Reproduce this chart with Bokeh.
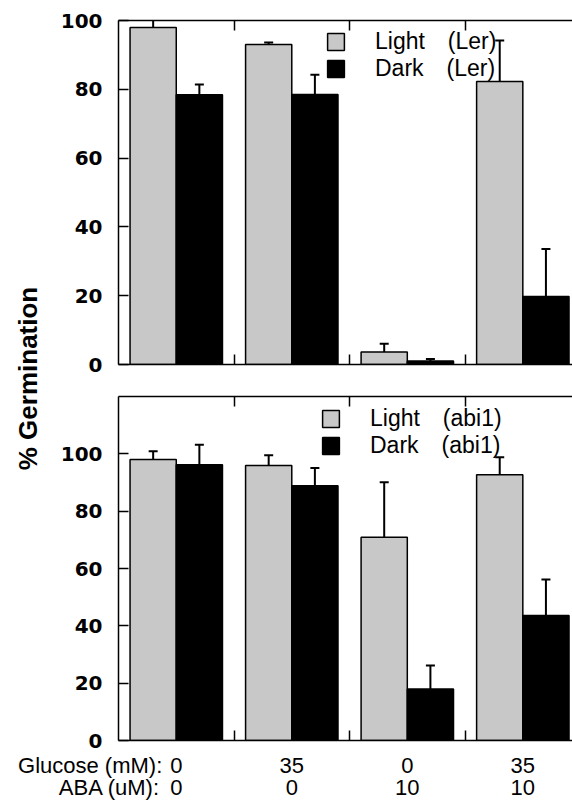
import math
from bokeh.plotting import figure
from bokeh.models import (Range1d, LinearAxis, FixedTicker, ColumnDataSource, Whisker,
                          TeeHead, Legend, LegendItem, Label)
from bokeh.layouts import row, column
from bokeh.embed import file_html
from bokeh.resources import INLINE

# ---- data ----
glucose = ["0", "35", "0", "35"]          # Glucose (mM)
aba = ["0", "0", "10", "10"]              # ABA (uM)

ler_light = [98.0, 93.0, 3.6, 82.3]
ler_light_err = [3.0, 0.6, 2.4, 11.9]
ler_dark = [78.4, 78.5, 1.0, 19.8]
ler_dark_err = [3.0, 5.7, 0.6, 13.8]

abi_light = [98.0, 95.9, 70.9, 92.7]
abi_light_err = [2.9, 3.6, 19.2, 6.1]
abi_dark = [96.2, 88.9, 18.0, 43.6]
abi_dark_err = [7.0, 6.2, 8.2, 12.6]

top_ticks = [0, 20, 40, 60, 80, 100]
bottom_ticks = [0, 20, 40, 60, 80, 100]
group_edges = [1, 2, 3]

LIGHT = "#c8c8c8"
DARK = "#000000"
TICK_FONT = "DejaVu Sans"
TEXT_FONT = "Liberation Sans"
X_END = 3.93
PX_PER_UNIT = 115.5
LEFT = 118


def panel(light, light_err, dark, dark_err, strain, ymax, yticks, height,
          border_top, border_bottom, legend_loc):
    n = len(light)
    src = ColumnDataSource(dict(
        xl=[i + 0.3 for i in range(n)],
        xd=[i + 0.7 for i in range(n)],
        light=light, dark=dark,
        light_up=[v + e for v, e in zip(light, light_err)],
        dark_up=[v + e for v, e in zip(dark, dark_err)],
    ))
    p = figure(width=524, height=height, x_range=Range1d(0, X_END),
               y_range=Range1d(0, ymax), x_axis_type=None, y_axis_type=None,
               output_backend="svg", toolbar_location=None,
               min_border_left=70, min_border_right=0,
               min_border_top=border_top, min_border_bottom=border_bottom)
    p.outline_line_color = None

    left = LinearAxis(ticker=FixedTicker(ticks=yticks), major_tick_in=10,
                      major_tick_out=0, minor_tick_line_color=None,
                      axis_line_width=1.5, major_tick_line_width=1.5,
                      major_label_text_font=TICK_FONT,
                      major_label_text_font_style="bold",
                      major_label_text_font_size="20px",
                      major_label_text_color="black",
                      major_label_standoff=16)
    p.add_layout(left, "left")
    for side in ("below", "above"):
        ax = LinearAxis(ticker=FixedTicker(ticks=group_edges), major_tick_in=10,
                        major_tick_out=0, minor_tick_line_color=None,
                        axis_line_width=1.5, major_tick_line_width=1.5,
                        major_label_overrides={t: "" for t in group_edges},
                        major_label_text_font_size="1px",
                        major_label_standoff=0)
        p.add_layout(ax, side)

    r1 = p.vbar(x="xl", top="light", bottom=0, width=0.4, source=src,
                fill_color=LIGHT, line_color="black", line_width=1.5)
    r2 = p.vbar(x="xd", top="dark", bottom=0, width=0.4, source=src,
                fill_color=DARK, line_color="black", line_width=1.5)

    for xf, lo, up in (("xl", "light", "light_up"), ("xd", "dark", "dark_up")):
        w = Whisker(source=src, base=xf, lower=lo, upper=up, lower_head=None,
                    upper_head=TeeHead(size=9, line_width=2, line_color="black"),
                    line_width=2, line_color="black", level="overlay")
        p.add_layout(w)

    legend = Legend(items=[LegendItem(label="Light\u2003(" + strain + ")", renderers=[r1]),
                           LegendItem(label="Dark\u2003(" + strain + ")", renderers=[r2])],
                    location=legend_loc, padding=0, margin=0, spacing=0,
                    border_line_color=None, background_fill_alpha=0,
                    glyph_width=21, glyph_height=21, label_standoff=29,
                    label_height=26,
                    label_text_font=TEXT_FONT, label_text_font_size="23px",
                    label_text_color="black")
    p.add_layout(legend)
    return p


top = panel(ler_light, ler_light_err, ler_dark, ler_dark_err, "Ler", 100, top_ticks,
            380, 20, 16, (207, 282))
bot = panel(abi_light, abi_light_err, abi_dark, abi_dark_err, "abi1", 120, bottom_ticks,
            372, 16, 12, (202, 281))

# condition labels under the lower panel (separate strip sharing the x scale)
STRIP_H = 48
lab = figure(width=572, height=STRIP_H,
             x_range=Range1d(-LEFT / PX_PER_UNIT, X_END), y_range=Range1d(0, STRIP_H),
             x_axis_type=None, y_axis_type=None, min_border=0,
             output_backend="svg", toolbar_location=None)
lab.outline_line_color = None
rows = ((glucose, 35, "Glucose (mM):", -14), (aba, 13, "ABA (uM):", -16))
for vals, yy, prefix, off in rows:
    for i, txt in enumerate(vals):
        lab.add_layout(Label(x=i + 0.5, y=yy, text=txt, text_align="center",
                             text_baseline="middle", text_font=TEXT_FONT,
                             text_font_size="22px", text_color="black"))
    lab.add_layout(Label(x=0.5, y=yy, x_offset=off, text=prefix, text_align="right",
                         text_baseline="middle", text_font=TEXT_FONT,
                         text_font_size="22px", text_color="black"))

# shared y-axis title
yl = figure(width=48, height=752, x_range=Range1d(0, 48), y_range=Range1d(0, 752),
            x_axis_type=None, y_axis_type=None, min_border=0,
            output_backend="svg", toolbar_location=None)
yl.outline_line_color = None
yl.add_layout(Label(x=27, y=752 - 378, text="% Germination", angle=math.pi / 2,
                    text_align="center", text_baseline="middle", text_font=TEXT_FONT,
                    text_font_style="bold", text_font_size="26px", text_color="black"))

layout = column(row(yl, column(top, bot)), lab)
open("out.html", "w").write(file_html(layout, INLINE))
